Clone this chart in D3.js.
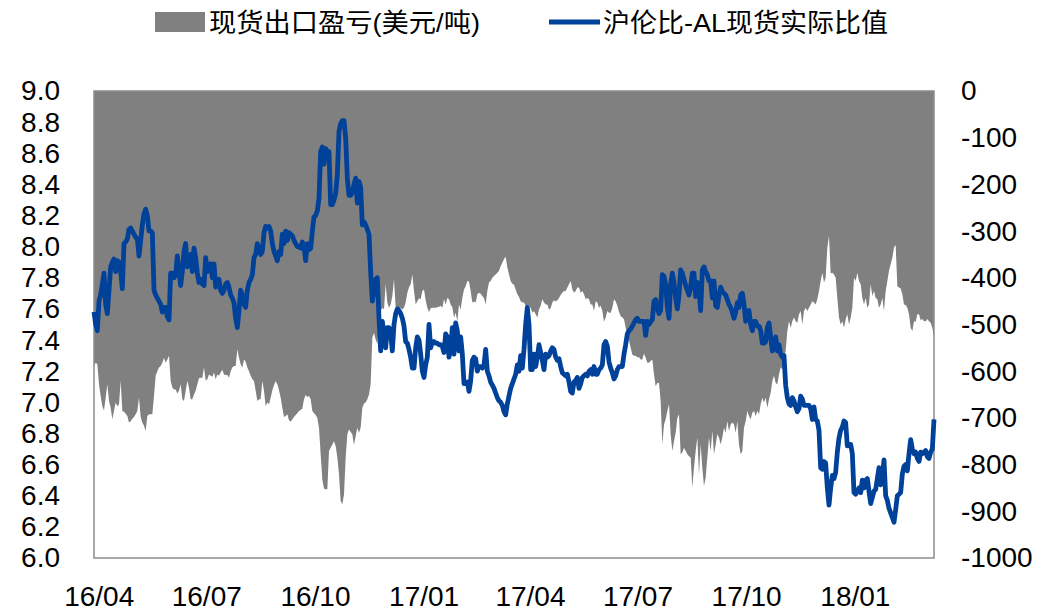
<!DOCTYPE html>
<html>
<head>
<meta charset="utf-8">
<script src="https://cdn.jsdelivr.net/npm/d3@7"></script>
<style>
  html, body { margin: 0; padding: 0; background: #fff; }
  .chart text { font-family: "Liberation Sans", Arial, "Noto Sans CJK SC", sans-serif; fill: #000; }
</style>
</head>
<body>
<div class="chart"></div>
<script>
// daily observations, evenly spaced between these two dates
const startDate = '2016-03-28'
const endDate = '2018-03-09'

// 沪伦比-AL现货实际比值 (left axis)
const ratio = [
  7.58,7.50,7.46,7.65,7.69,7.76,7.83,7.63,7.57,7.72, 7.87,7.90,7.92,7.84,7.91,7.90,7.84,7.73,8.02,8.03,
  8.05,8.11,8.12,8.10,8.08,8.06,8.05,7.94,8.04,8.14, 8.21,8.24,8.20,8.10,8.10,8.09,7.72,7.69,7.67,7.65,
  7.63,7.58,7.61,7.61,7.55,7.53,7.83,7.83,7.80,7.82, 7.94,7.84,7.75,7.84,7.97,8.02,7.87,7.91,7.95,7.84,
  7.99,7.93,7.83,7.77,7.79,7.76,7.75,7.93,7.84,7.87, 7.89,7.80,
  7.89,7.74,7.77,7.79,7.72,7.70,7.72,7.76,7.77,7.74, 7.69,7.67,7.64,7.54,7.48,7.59,7.72,7.69,7.63,7.61,
  7.72,7.77,7.79,7.82,7.93,7.95,8.02,7.99,7.95,7.97, 8.09,8.13,8.12,8.13,8.10,8.02,7.97,7.94,7.91,7.97,
  7.95,8.08,8.02,8.10,8.04,8.09,8.08,8.07,8.04,8.02, 8.00,8.00,7.99,8.03,8.00,7.91,8.02,7.98,7.99,8.10,
  8.19,8.20,8.23,8.31,8.61,8.64,8.53,8.63,8.61,8.61, 8.27,8.27,
  8.30,8.34,8.46,8.74,8.79,8.81,8.81,8.70,8.44,8.33, 8.33,8.35,8.40,8.44,8.28,8.42,8.38,8.14,8.16,8.14,
  8.11,8.08,7.84,7.65,7.72,7.79,7.80,7.54,7.33,7.52, 7.44,7.35,7.48,7.48,7.44,7.33,7.50,7.57,7.60,7.59,
  7.57,7.54,7.49,7.39,7.38,7.34,7.29,7.22,7.22,7.35, 7.42,7.40,7.31,7.20,7.16,7.24,7.29,7.50,7.35,7.39,
  7.39,7.38,7.38,7.37,7.37,7.36,7.32,7.44,7.42,7.29, 7.35,7.48,
  7.31,7.51,7.46,7.33,7.42,7.31,7.12,7.12,7.13,7.07, 7.14,7.27,7.29,7.28,7.20,7.23,7.23,7.22,7.24,7.34,
  7.20,7.17,7.13,7.11,7.09,7.06,7.03,7.01,7.00,6.98, 6.94,6.92,6.99,7.04,7.09,7.12,7.15,7.18,7.24,7.20,
  7.30,7.22,7.34,7.50,7.61,7.50,7.21,7.21,7.31,7.23, 7.29,7.37,7.32,7.27,7.21,7.31,7.29,7.30,7.33,7.35,
  7.34,7.29,7.27,7.28,7.23,7.19,7.18,7.17,7.18,7.13, 7.07,7.06,
  7.13,7.14,7.16,7.09,7.12,7.16,7.17,7.18,7.17,7.20, 7.21,7.18,7.23,7.18,7.18,7.21,7.22,7.24,7.37,7.39,
  7.36,7.26,7.22,7.19,7.15,7.17,7.21,7.23,7.23,7.23, 7.31,7.37,7.44,7.46,7.47,7.49,7.51,7.53,7.54,7.52,
  7.52,7.52,7.52,7.43,7.52,7.50,7.52,7.53,7.65,7.66, 7.61,7.57,7.59,7.82,7.81,7.76,7.61,7.54,7.76,7.83,
  7.77,7.67,7.60,7.69,7.85,7.83,7.79,7.75,7.72,7.69, 7.74,7.83,
  7.83,7.68,7.77,7.72,7.59,7.85,7.87,7.84,7.82,7.78, 7.78,7.67,7.78,7.62,7.61,7.69,7.74,7.71,7.70,7.69,
  7.66,7.63,7.61,7.58,7.54,7.58,7.64,7.61,7.69,7.70, 7.63,7.52,7.58,7.59,7.50,7.46,7.52,7.52,7.49,7.49,
  7.46,7.38,7.38,7.39,7.48,7.51,7.42,7.33,7.37,7.42, 7.33,7.37,7.31,7.29,7.30,7.11,7.03,6.99,6.98,7.03,
  7.01,6.97,6.94,6.96,7.04,7.02,6.98,6.98,6.98,6.98, 6.96,6.89,
  6.97,6.89,6.88,6.82,6.58,6.57,6.62,6.61,6.45,6.34, 6.45,6.53,6.51,6.55,6.68,6.77,6.82,6.84,6.88,6.87,
  6.72,6.73,6.73,6.67,6.42,6.41,6.43,6.45,6.42,6.50, 6.45,6.50,6.51,6.43,6.35,6.39,6.43,6.44,6.51,6.58,
  6.47,6.52,6.63,6.40,6.37,6.32,6.29,6.26,6.23,6.31, 6.40,6.41,6.42,6.54,6.59,6.60,6.56,6.67,6.76,6.70,
  6.67,6.68,6.64,6.62,6.68,6.67,6.68,6.69,6.65,6.64, 6.68,6.70,6.89
]

// 现货出口盈亏(美元/吨) (right axis)
const profit = [
  -589,-582,-585,-628,-653,-675,-684,-657,-628,-664, -678,-703,-685,-667,-675,-671,-621,-685,-687,-691,
  -696,-710,-707,-702,-698,-692,-685,-657,-698,-710, -717,-728,-696,-692,-692,-692,-653,-610,-600,-592,
  -589,-582,-571,-582,-575,-567,-621,-635,-639,-639, -648,-642,-628,-660,-664,-642,-621,-635,-660,-660,
  -650,-642,-628,-615,-614,-614,-592,-620,-617,-607, -610,-612,
  -603,-617,-607,-610,-603,-597,-607,-608,-608,-614, -600,-592,-589,-589,-553,-571,-585,-592,-575,-580,
  -592,-600,-610,-617,-621,-642,-664,-660,-660,-621, -642,-675,-667,-671,-657,-641,-630,-621,-628,-641,
  -657,-678,-698,-696,-692,-705,-708,-703,-698,-694, -690,-685,-683,-680,-660,-651,-655,-653,-660,-685,
  -690,-694,-700,-721,-778,-832,-851,-853,-853,-771, -764,-757,
  -750,-760,-785,-821,-878,-885,-864,-785,-735,-725, -730,-735,-758,-739,-721,-732,-721,-678,-669,-667,
  -660,-650,-628,-528,-518,-532,-542,-500,-471,-464, -468,-414,-453,-464,-457,-439,-403,-464,-464,-471,
  -464,-468,-464,-453,-432,-421,-414,-393,-428,-457, -450,-444,-446,-428,-425,-448,-464,-473,-465,-464,
  -464,-464,-463,-462,-460,-464,-446,-457,-443,-446, -457,-463,
  -485,-475,-493,-457,-468,-443,-425,-418,-407,-408, -428,-453,-451,-453,-435,-432,-434,-439,-444,-457,
  -428,-410,-407,-400,-396,-393,-389,-385,-375,-368, -360,-355,-378,-393,-407,-413,-415,-425,-435,-441,
  -450,-453,-453,-460,-460,-460,-464,-475,-471,-478, -485,-468,-460,-446,-453,-457,-457,-468,-465,-453,
  -448,-451,-448,-443,-437,-432,-428,-428,-421,-414, -407,-425,
  -432,-428,-421,-421,-432,-428,-435,-446,-443,-446, -457,-457,-471,-450,-453,-464,-460,-471,-494,-485,
  -471,-475,-475,-464,-446,-451,-460,-473,-482,-485, -489,-507,-521,-534,-550,-565,-567,-567,-570,-570,
  -575,-575,-562,-571,-582,-582,-578,-575,-607,-632, -625,-625,-664,-757,-714,-703,-685,-671,-735,-771,
  -750,-732,-700,-692,-778,-774,-764,-771,-778,-782, -785,-849,
  -807,-771,-742,-821,-757,-807,-846,-828,-785,-742, -771,-728,-778,-757,-735,-742,-757,-742,-721,-732,
  -707,-728,-714,-710,-714,-732,-707,-757,-778,-771, -721,-707,-685,-696,-703,-689,-685,-696,-685,-692,
  -671,-657,-667,-657,-678,-660,-646,-621,-610,-625, -628,-607,-592,-596,-571,-557,-514,-493,-507,-493,
  -485,-493,-496,-478,-471,-500,-471,-464,-471,-464, -457,-450,
  -453,-457,-446,-428,-407,-389,-410,-400,-335,-310, -391,-389,-393,-400,-443,-485,-500,-493,-507,-489,
  -478,-500,-485,-464,-400,-407,-389,-407,-414,-443, -457,-443,-464,-457,-414,-439,-428,-443,-446,-464,
  -457,-443,-471,-428,-407,-385,-371,-357,-335,-330, -418,-421,-423,-435,-457,-458,-464,-478,-507,-514,
  -493,-494,-478,-478,-491,-488,-493,-493,-488,-493, -496,-507,-525
]

const seriesNames = ['现货出口盈亏(美元/吨)', '沪伦比-AL现货实际比值']
const leftTicks = [6.0, 6.2, 6.4, 6.6, 6.8, 7.0, 7.2, 7.4, 7.6, 7.8, 8.0, 8.2, 8.4, 8.6, 8.8, 9.0]
const rightTicks = [-1000, -900, -800, -700, -600, -500, -400, -300, -200, -100, 0]

const width = 1061
const height = 612
const plot = {left: 94, right: 934, top: 91, bottom: 558}
const grey = '#808080'
const blue = '#00419a'

const parse = d3.timeParse('%Y-%m-%d')
const t0 = parse(startDate)
const t1 = parse(endDate)
const n = ratio.length
const toTime = d3.scaleLinear().domain([0, n - 1]).range([+t0, +t1])
const data = ratio.map((v, i) => ({date: new Date(toTime(i)), ratio: v, profit: profit[i]}))

const x = d3.scaleTime().domain([t0, t1]).range([plot.left, plot.right])
const yL = d3.scaleLinear().domain([6, 9]).range([plot.bottom, plot.top])
const yR = d3.scaleLinear().domain([-1000, 0]).range([plot.bottom, plot.top])

const svg = d3.select('.chart').append('svg')
  .attr('width', width)
  .attr('height', height)

// profit area hangs from the zero line at the top
const area = d3.area()
  .x(d => x(d.date))
  .y0(yR(0))
  .y1(d => yR(d.profit))
svg.append('path')
  .datum(data)
  .attr('d', area)
  .attr('fill', grey)

svg.append('rect')
  .attr('x', plot.left)
  .attr('y', plot.top)
  .attr('width', plot.right - plot.left)
  .attr('height', plot.bottom - plot.top)
  .attr('fill', 'none')
  .attr('stroke', '#8c8c8c')
  .attr('stroke-width', 1.5)

const line = d3.line()
  .x(d => x(d.date))
  .y(d => yL(d.ratio))
svg.append('path')
  .datum(data)
  .attr('d', line)
  .attr('fill', 'none')
  .attr('stroke', blue)
  .attr('stroke-width', 4.8)
  .attr('stroke-linejoin', 'round')

const fontSize = 28

const axL = svg.append('g')
  .attr('transform', 'translate(' + (plot.left - 34) + ',0)')
  .call(d3.axisLeft(yL).tickValues(leftTicks).tickSize(0).tickFormat(d3.format('.1f')))
const axR = svg.append('g')
  .attr('transform', 'translate(' + (plot.right + 27) + ',0)')
  .call(d3.axisRight(yR).tickValues(rightTicks).tickSize(0).tickFormat(d => String(d)))
const axB = svg.append('g')
  .attr('transform', 'translate(0,' + (plot.bottom + 25) + ')')
  .call(d3.axisBottom(x).ticks(d3.timeMonth.every(3)).tickSize(0).tickFormat(d3.timeFormat('%y/%m')))

;[axL, axR, axB].forEach(g => {
  g.select('.domain').remove()
  g.selectAll('text').attr('font-size', fontSize).style('font-family', '"Liberation Sans", Arial, sans-serif').attr('fill', '#000')
})
axL.selectAll('text').attr('x', 0)
axR.selectAll('text').attr('x', 0)

// legend
const legend = svg.append('g')
legend.append('rect')
  .attr('x', 155).attr('y', 12).attr('width', 50).attr('height', 20)
  .attr('fill', grey)
legend.append('text')
  .attr('x', 209).attr('y', 32)
  .attr('font-size', 26)
  .attr('textLength', 271)
  .attr('lengthAdjust', 'spacingAndGlyphs')
  .text(seriesNames[0])
legend.append('line')
  .attr('x1', 549).attr('x2', 600).attr('y1', 22).attr('y2', 22)
  .attr('stroke', blue).attr('stroke-width', 5)
legend.append('text')
  .attr('x', 603).attr('y', 32)
  .attr('font-size', 26)
  .attr('textLength', 285)
  .attr('lengthAdjust', 'spacingAndGlyphs')
  .text(seriesNames[1])
</script>
</body>
</html>
